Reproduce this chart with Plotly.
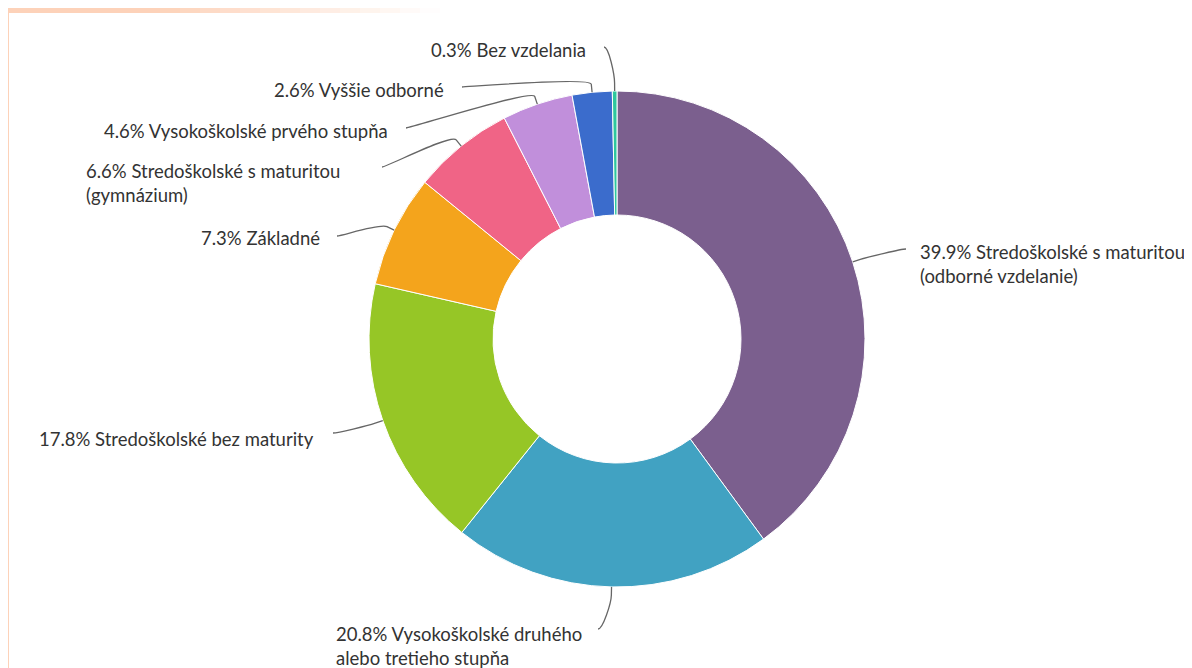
import math

import plotly.graph_objects as go

# the page puts the figure 8px in from the top-left corner
W, H = 1184, 660
OFFSET = 8

categories = [
    "Stredoškolské s maturitou\n(odborné vzdelanie)",
    "Vysokoškolské druhého\nalebo tretieho stupňa",
    "Stredoškolské bez maturity",
    "Základné",
    "Stredoškolské s maturitou\n(gymnázium)",
    "Vysokoškolské prvého stupňa",
    "Vyššie odborné",
    "Bez vzdelania",
]
shares = [39.9, 20.8, 17.8, 7.3, 6.6, 4.6, 2.6, 0.3]
colors = [
    "#7b5f8e", "#41a2c2", "#96c626", "#f4a41c",
    "#f06486", "#c18fdb", "#3b6ccc", "#2ec79e",
]

# ring geometry in page pixels
CX, CY, R = 617, 339, 248
BREAK = 8          # where the leader line bends, px outside the ring

# label layout (page px): text edge x, first line y, anchor side, leader end x/y
label_pos = [
    (918, 252, "left", 906, 249),
    (334, 634, "left", 598, 629),
    (316, 439, "right", 333, 433),
    (322, 238, "right", 337, 236),
    (84, 171, "left", 382, 167),
    (390, 131, "right", 406, 128),
    (446, 90, "right", 462, 87),
    (588, 50, "right", 604, 47),
]
LINE_GAP = 24

_TEXT = "#333333"
_LEADER = "#666666"
_PEACH = "#fdd2b9"


def px(x):
    return (x - OFFSET) / W


def py(y):
    return 1 - (y - OFFSET) / H


def ring_point(frac, r):
    # clockwise from 12 o'clock, y grows downward
    a = 2 * math.pi * frac
    return CX + r * math.sin(a), CY - r * math.cos(a)


fig = go.Figure()

fig.add_trace(go.Pie(
    values=shares,
    labels=[c.replace("\n", " ") for c in categories],
    marker={"colors": colors, "line": {"color": "#ffffff", "width": 1}},
    hole=0.5,
    sort=False,
    direction="clockwise",
    rotation=0,
    textinfo="none",
    hoverinfo="label+percent",
    showlegend=False,
    domain={"x": [px(CX - R), px(CX + R)], "y": [py(CY + R), py(CY - R)]},
))

shapes = []
# peach page background peeking out at left and top
shapes.append(dict(type="rect", xref="paper", yref="paper", x0=0, x1=px(9),
                   y0=0, y1=1, fillcolor=_PEACH, line_width=0, layer="below"))
shapes.append(dict(type="rect", xref="paper", yref="paper", x0=0, x1=px(160),
                   y0=py(13), y1=1, fillcolor=_PEACH, line_width=0, layer="below"))
steps = 14
for i in range(steps):
    x0 = 160 + i * 20
    shapes.append(dict(type="rect", xref="paper", yref="paper",
                       x0=px(x0), x1=px(x0 + 20), y0=py(13), y1=1,
                       fillcolor=_PEACH, opacity=1 - (i + 0.5) / steps,
                       line_width=0, layer="below"))

annotations = []
total = sum(shares)
cum = 0.0
for share, cat, (tx, ty, side, ex, ey) in zip(shares, categories, label_pos):
    mid = (cum + share / 2) / total
    cum += share
    tx0, ty0 = ring_point(mid, R)
    bx, by = ring_point(mid, R + BREAK)
    cx2, cy2 = 2 * bx - tx0, 2 * by - ty0
    cx1 = ex + (5 if ex < CX else -5)
    path = (f"M {px(ex)},{py(ey)} C {px(cx1)},{py(ey)} {px(cx2)},{py(cy2)} "
            f"{px(bx)},{py(by)} L {px(tx0)},{py(ty0)}")
    shapes.append(dict(type="path", xref="paper", yref="paper", path=path,
                       line={"color": _LEADER, "width": 1.3}))

    for i, line in enumerate(f"{share}% {cat}".split("\n")):
        annotations.append(dict(
            text=line, x=px(tx), y=py(ty + i * LINE_GAP),
            xref="paper", yref="paper", xanchor=side, yanchor="middle",
            showarrow=False, font={"family": "Lato", "size": 18.5, "color": _TEXT},
        ))

fig.update_layout(
    width=W, height=H,
    margin={"l": 0, "r": 0, "t": 0, "b": 0},
    paper_bgcolor="#ffffff",
    plot_bgcolor="#ffffff",
    shapes=shapes,
    annotations=annotations,
    font={"family": "Lato", "color": _TEXT},
)

fig.write_html("out.html")
